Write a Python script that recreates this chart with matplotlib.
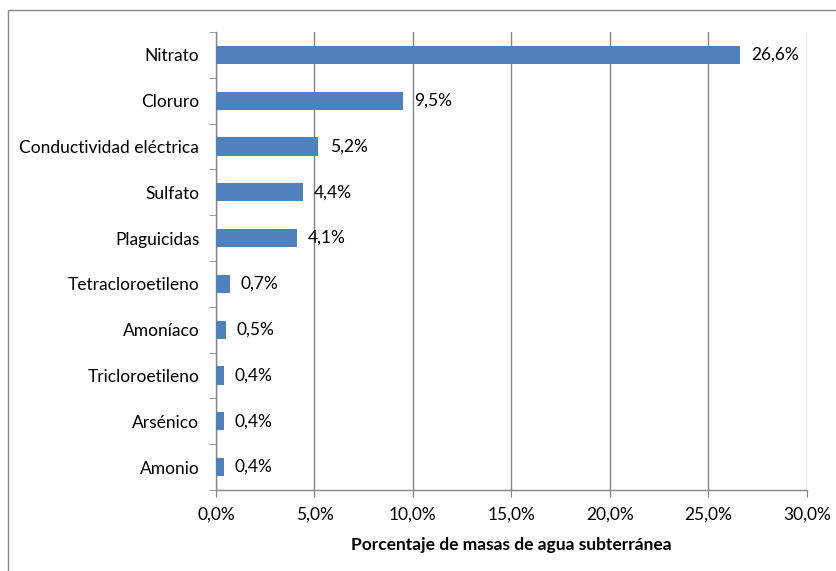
import matplotlib

matplotlib.use("Agg")
import matplotlib.pyplot as plt
from matplotlib.patches import Rectangle
from matplotlib.ticker import FuncFormatter, MultipleLocator

plt.rcParams["font.family"] = ["Lato", "DejaVu Sans"]

# categories top to bottom
categories = [
    "Nitrato", "Cloruro", "Conductividad eléctrica", "Sulfato", "Plaguicidas",
    "Tetracloroetileno", "Amoníaco", "Tricloroetileno", "Arsénico", "Amonio",
]
values = [26.6, 9.5, 5.2, 4.4, 4.1, 0.7, 0.5, 0.4, 0.4, 0.4]
xlabel = "Porcentaje de masas de agua subterránea"

BAR = "#4F81BD"
AXIS = "#868686"
FS = 12.5


def pct(v, _pos=None):
    return f"{v:.1f}%".replace(".", ",")


fig = plt.figure(figsize=(8.37, 5.71), dpi=100)
fig.patches.append(Rectangle((8 / 837, -0.1), 1.2, 1 - 10 / 571 + 0.1,
                             transform=fig.transFigure, fill=False,
                             edgecolor=AXIS, linewidth=1.0))
ax = fig.add_axes([216 / 837, 1 - 490 / 571, (807 - 216) / 837, (490 - 32) / 571])

ys = list(range(len(categories)))[::-1]
ax.barh(ys, values, height=0.4, color=BAR, zorder=3)
for y, v in zip(ys, values):
    ax.annotate(pct(v), (v, y), textcoords="offset points",
                xytext=(8, 0), va="center", ha="left", fontsize=FS)

ax.set_xlim(0, 30)
ax.set_ylim(-0.5, len(categories) - 0.5)
ax.xaxis.set_major_locator(MultipleLocator(5))
ax.xaxis.set_major_formatter(FuncFormatter(pct))
ax.grid(axis="x", color=AXIS, linewidth=1.0, zorder=0)

ax.set_yticks(ys)
ax.set_yticklabels(categories, fontsize=FS)
ax.set_yticks([i + 0.5 for i in range(-1, len(categories))], minor=True)
ax.tick_params(axis="y", which="major", length=0, pad=12)
ax.tick_params(axis="y", which="minor", length=5, color=AXIS, direction="out")
ax.tick_params(axis="x", length=5, color=AXIS, labelsize=FS, pad=7)

for s in ("top", "right"):
    ax.spines[s].set_visible(False)
for s in ("left", "bottom"):
    ax.spines[s].set_color(AXIS)
    ax.spines[s].set_linewidth(1.0)

ax.set_xlabel(xlabel, fontsize=FS, fontweight="bold", labelpad=10)

fig.savefig("out.png", dpi=100)
